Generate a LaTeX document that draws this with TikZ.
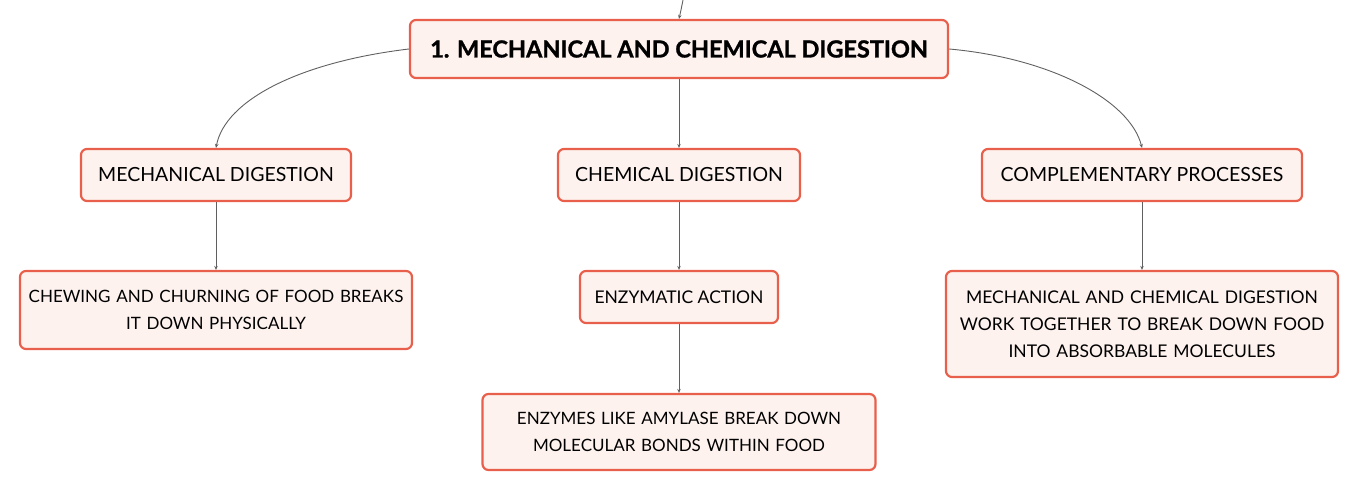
\documentclass[tikz,border=0pt]{standalone}
\usepackage{fontspec}
\setmainfont{Lato}
\usetikzlibrary{arrows.meta}
\definecolor{boxborder}{HTML}{E8604C}
\definecolor{boxfill}{HTML}{FDF2EE}
\definecolor{linkgray}{HTML}{606060}
\tikzset{
  box/.style={draw=boxborder, fill=boxfill, line width=2.2pt, rounded corners=6pt,
    align=center, inner sep=0pt, font=\fontsize{17.5}{27}\selectfont},
  midbox/.style={box, font=\fontsize{19.5}{27}\selectfont},
  smallbox/.style={box, font=\fontsize{17}{27}\selectfont, text width=392pt},
  link/.style={draw=linkgray, line width=0.9pt, -{Stealth[length=4pt,width=3.5pt]}},
}
\begin{document}
\begin{tikzpicture}[x=1pt,y=-1pt]
\useasboundingbox (0,0) rectangle (1359,492);
\node[box, minimum width=538pt, minimum height=58pt, font=\fontsize{23.5}{26}\selectfont\bfseries\addfontfeatures{FakeBold=1.2}] (root) at (679,49) {1. MECHANICAL AND CHEMICAL DIGESTION};
\node[midbox, minimum width=270pt, minimum height=52pt] (mech) at (216,175) {MECHANICAL DIGESTION};
\node[midbox, minimum width=242pt, minimum height=52pt] (chem) at (679,175) {CHEMICAL DIGESTION};
\node[midbox, minimum width=320pt, minimum height=52pt] (comp) at (1142,175) {COMPLEMENTARY PROCESSES};
\node[smallbox, minimum width=392pt, minimum height=78pt] (chew) at (216,310) {CHEWING AND CHURNING OF FOOD BREAKS\\IT DOWN PHYSICALLY};
\node[box, minimum width=198pt, minimum height=52pt] (enz) at (679,297) {ENZYMATIC ACTION};
\node[smallbox, minimum width=393pt, minimum height=76pt] (amyl) at (679,432) {ENZYMES LIKE AMYLASE BREAK DOWN\\MOLECULAR BONDS WITHIN FOOD};
\node[box, minimum width=392pt, minimum height=106pt, text width=390pt] (tog) at (1142,324) {MECHANICAL AND CHEMICAL DIGESTION\\WORK TOGETHER TO BREAK DOWN FOOD\\INTO ABSORBABLE MOLECULES};
\coordinate (in) at (683,0);
\draw[link] (in) .. controls (681,10) .. (root.north);
\draw[link] (root.west) .. controls (300,62) and (225,100) .. (mech.north);
\draw[link] (root.east) .. controls (1050,58) and (1130,100) .. (comp.north);
\draw[link] (root.south) -- (chem.north);
\draw[link] (mech.south) -- (chew.north);
\draw[link] (chem.south) -- (enz.north);
\draw[link] (enz.south) -- (amyl.north);
\draw[link] (comp.south) -- (tog.north);
\end{tikzpicture}
\end{document}
